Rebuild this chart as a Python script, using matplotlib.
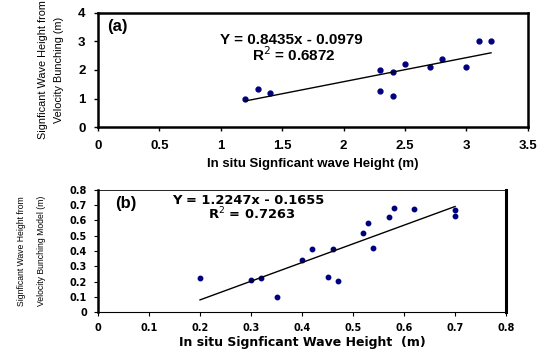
import numpy as np
import matplotlib
matplotlib.use("Agg")
import matplotlib.pyplot as plt

# (a) datos
xa = [1.2, 1.3, 1.4, 2.3, 2.3, 2.4, 2.4, 2.5, 2.7, 2.8, 3.0, 3.1, 3.2]
ya = [1.0, 1.32, 1.2, 2.0, 1.25, 1.1, 1.92, 2.2, 2.1, 2.4, 2.1, 3.0, 3.0]
fit_a = (0.8435, -0.0979)

# (b)
xb = [0.2, 0.3, 0.32, 0.35, 0.4, 0.42, 0.45, 0.46, 0.47, 0.52, 0.53, 0.54,
      0.57, 0.58, 0.62, 0.7, 0.7]
yb = [0.22, 0.21, 0.22, 0.1, 0.34, 0.41, 0.23, 0.41, 0.205, 0.52, 0.585, 0.42,
      0.62, 0.68, 0.675, 0.67, 0.63]
fit_b = (1.2247, -0.1655)

xticks_a = [0, 0.5, 1, 1.5, 2, 2.5, 3, 3.5]
yticks_a = [0, 1, 2, 3, 4]
xticks_b = [0, 0.1, 0.2, 0.3, 0.4, 0.5, 0.6, 0.7, 0.8]
yticks_b = [0, 0.1, 0.2, 0.3, 0.4, 0.5, 0.6, 0.7, 0.8]

plt.rcParams['font.family'] = ['Liberation Sans', 'DejaVu Sans']
navy = '#00007f'

fig = plt.figure(figsize=(5.4, 3.49), dpi=100)

# ---- panel (a)
ax1 = fig.add_axes([0.1815, 0.636, 0.796, 0.327])
ax1.plot(xa, ya, 'o', color=navy, ms=3.5, mec=navy)
xl = np.array([min(xa), max(xa)])
ax1.plot(xl, fit_a[0] * xl + fit_a[1], color='k', lw=1)
ax1.set_xlim(0, 3.5)
ax1.set_ylim(0, 4)
ax1.set_xticks(xticks_a)
ax1.set_xticklabels([f"{v:g}" for v in xticks_a])
ax1.set_yticks(yticks_a)
for s in ax1.spines.values():
    s.set_linewidth(1.8)
ax1.tick_params(direction='out', length=3, width=1, labelsize=9.5, pad=6)
for lab in ax1.get_xticklabels() + ax1.get_yticklabels():
    lab.set_fontweight('bold')
ax1.text(0.021, 0.877, '(a)', transform=ax1.transAxes, fontsize=12,
         fontweight='bold', va='center')
ax1.text(0.284, 0.763, 'Y = 0.8435x - 0.0979', transform=ax1.transAxes,
         fontsize=11, fontweight='bold', va='center')
ax1.text(0.358, 0.63, r'R$^{2}$ = 0.6872', transform=ax1.transAxes,
         fontsize=11, fontweight='bold', va='center')
ax1.set_xlabel('In situ Signficant wave Height (m)', fontsize=9.5,
               fontweight='bold', labelpad=5)
ax1.set_ylabel('Signficant Wave Height from\nVelocity Bunching (m)', fontsize=7.8,
               linespacing=1.8, labelpad=10)

# ---- panel (b)
ax2 = fig.add_axes([0.1815, 0.106, 0.7556, 0.3496])
ax2.plot(xb, yb, 'o', color=navy, ms=3.2, mec=navy)
xl = np.array([min(xb), max(xb)])
ax2.plot(xl, fit_b[0] * xl + fit_b[1], color='k', lw=1)
ax2.set_xlim(0, 0.8)
ax2.set_ylim(0, 0.8)
ax2.set_xticks(xticks_b)
ax2.set_xticklabels([f"{v:g}" for v in xticks_b])
ax2.set_yticks(yticks_b)
ax2.set_yticklabels([f"{v:g}" for v in yticks_b])
ax2.spines['left'].set_linewidth(1.8)
ax2.spines['right'].set_linewidth(2.2)
ax2.spines['top'].set_linewidth(0.6)
ax2.spines['bottom'].set_linewidth(0.8)
ax2.tick_params(direction='out', length=3, width=0.8, labelsize=7, pad=5)
for lab in ax2.get_xticklabels() + ax2.get_yticklabels():
    lab.set_fontweight('bold')
    lab.set_family('DejaVu Sans')
ax2.text(0.042, 0.893, '(b)', transform=ax2.transAxes, fontsize=12,
         fontweight='bold', va='center')
ax2.text(0.181, 0.915, 'Y = 1.2247x - 0.1655', transform=ax2.transAxes,
         fontsize=9.4, fontweight='bold', va='center', family='DejaVu Sans')
ax2.text(0.27, 0.80, r'R$^{2}$ = 0.7263', transform=ax2.transAxes,
         fontsize=9.4, fontweight='bold', va='center', family='DejaVu Sans')
ax2.set_xlabel('In situ Signficant Wave Height  (m)', fontsize=9,
               fontweight='bold', labelpad=2, family='DejaVu Sans')
ax2.set_ylabel('Signficant Wave Height from\nVelocity Bunching Model (m)', fontsize=6.2,
               linespacing=2.6, labelpad=17)

fig.savefig('out.png', dpi=100)
